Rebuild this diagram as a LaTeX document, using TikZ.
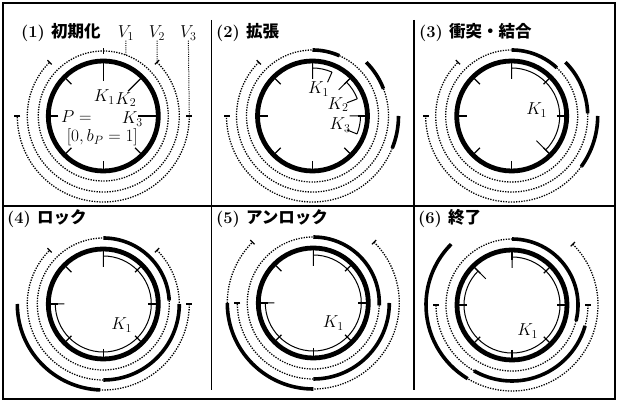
\documentclass[tikz,border=0pt]{standalone}
\usepackage{fontspec}
\newfontfamily\jpfont{Noto Sans CJK JP}
\begin{document}
\begin{tikzpicture}[x=1pt,y=1pt,
  ring/.style={line width=4.8pt},
  rtick/.style={line width=1.3pt},
  karc/.style={line width=1pt},
  vseg/.style={line width=3.6pt},
  vdot/.style={line width=1.3pt,dash pattern=on 1.3pt off 1.3pt},
  vend/.style={line width=1.2pt},
  lead/.style={line width=1pt,dash pattern=on 1pt off 1.2pt},
  head/.style={anchor=west,inner sep=0pt,font=\fontsize{16.5}{18}\selectfont\bfseries},
  lab/.style={inner sep=0pt,font=\fontsize{17.5}{20.5}\selectfont}]
\useasboundingbox (0,0) rectangle (618,403);
\draw[line width=1.5pt] (3,4) rectangle (615,400);
\draw[line width=1.2pt] (3,197) -- (615,197);
\draw[line width=1.2pt] (211.5,383) -- (211.5,13) (414,383) -- (414,13);

% (1) initial state
\node[head] (h1) at (21,370) {(1) {\jpfont 初期化}};
\begin{scope}[shift={(103.3,287)}]
\coordinate (c1) at (0,0);
\draw[ring] (c1) circle[radius=55];
\foreach \a in {135,180,...,315} \draw[rtick] (\a:45) -- (\a:55);
\foreach \a in {0,45,90} \draw[rtick] (\a:35) -- (\a:55);
\draw[vdot] (90:65) arc[start angle=90,end angle=-270,radius=65];
\draw[vend] (90:62) -- (90:68);
\draw[vdot] (45:76) arc[start angle=45,end angle=-225,radius=76];
\draw[vend] (45:73) -- (45:79) (135:73) -- (135:79);
\draw[vdot] (0:86) arc[start angle=0,end angle=-180,radius=86];
\draw[vend] (0:83) -- (0:89) (180:83) -- (180:89);
\node[lab] (k11) at (1,19) {$K_1$};
\node[lab] (k12) at (22.5,16.5) {$K_2$};
\node[lab] (k13) at (29,-3) {$K_3$};
\node[lab] (p1) at (-27,-0.7) {$P=$};
\node[lab] (b1) at (-1,-21.3) {$[0,b_P=1]$};
\coordinate (a1) at (69.6:65);
\coordinate (a2) at (45:76);
\coordinate (a3) at (0:86);
\node[lab] (lv1) at (22.7,82.7) {$V_1$};
\node[lab] (lv2) at (53.7,82.7) {$V_2$};
\node[lab] (lv3) at (85,82.7) {$V_3$};
\draw[lead] (lv1) -- (a1);
\draw[lead] (lv2) -- (a2);
\draw[lead] (lv3) -- (a3);
\end{scope}

% (2) expansion
\node[head] (h2) at (216,370) {(2) {\jpfont 拡張}};
\begin{scope}[shift={(312.5,287)}]
\coordinate (c2) at (0,0);
\draw[ring] (c2) circle[radius=55];
\foreach \a in {0,45,...,315} \draw[rtick] (\a:45) -- (\a:55);
\draw[karc] (90:37) -- (90:55) (90:48) arc[start angle=90,end angle=66,radius=48] (66:48) -- (66:37);
\draw[karc] (45:37) -- (45:55) (45:48) arc[start angle=45,end angle=21,radius=48] (21:48) -- (21:37);
\draw[karc] (0:37) -- (0:55) (0:48) arc[start angle=0,end angle=-22,radius=48] (-22:48) -- (-22:37);
\draw[vseg] (90:66) arc[start angle=90,end angle=66,radius=66];
\draw[vdot] (66:66) arc[start angle=66,end angle=-270,radius=66];
\draw[vseg] (45:76) arc[start angle=45,end angle=21,radius=76];
\draw[vdot] (21:76) arc[start angle=21,end angle=-225,radius=76];
\draw[vend] (135:73) -- (135:79);
\draw[vseg] (0:86) arc[start angle=0,end angle=-22,radius=86];
\draw[vdot] (-22:86) arc[start angle=-22,end angle=-180,radius=86];
\draw[vend] (180:83) -- (180:89);
\node[lab] (k21) at (6,27) {$K_1$};
\node[lab] (k22) at (25.5,11.5) {$K_2$};
\node[lab] (k23) at (27.5,-9) {$K_3$};
\end{scope}

% (3) collision and merge
\node[head] (h3) at (419,370) {(3) {\jpfont 衝突・結合}};
\begin{scope}[shift={(511.7,287)}]
\coordinate (c3) at (0,0);
\draw[ring] (c3) circle[radius=55];
\foreach \a in {0,45,...,315} \draw[rtick] (\a:45) -- (\a:55);
\draw[karc] (90:37) -- (90:55) (90:48) arc[start angle=90,end angle=-45,radius=48] (-45:35) -- (-45:55);
\draw[vseg] (90:66) arc[start angle=90,end angle=47,radius=66];
\draw[vdot] (47:66) arc[start angle=47,end angle=-270,radius=66];
\draw[vseg] (45:76) arc[start angle=45,end angle=2,radius=76];
\draw[vdot] (2:76) arc[start angle=2,end angle=-225,radius=76];
\draw[vend] (135:73) -- (135:79);
\draw[vseg] (0:86) arc[start angle=0,end angle=-36,radius=86];
\draw[vdot] (-36:86) arc[start angle=-36,end angle=-180,radius=86];
\draw[vend] (180:83) -- (180:89);
\node[lab] (k31) at (25,6) {$K_1$};
\end{scope}

% (4) lock
\node[head] (h4) at (7,184) {(4) {\jpfont ロック}};
\begin{scope}[shift={(103.3,99)}]
\coordinate (c4) at (0,0);
\draw[ring] (c4) circle[radius=55];
\foreach \a in {0,45,...,315} \draw[rtick] (\a:45) -- (\a:55);
\draw[karc] (90:37) -- (90:55) (90:48) arc[start angle=90,end angle=-180,radius=48] (180:39) -- (180:55);
\draw[vseg] (90:66) arc[start angle=90,end angle=3,radius=66];
\draw[vdot] (3:66) arc[start angle=3,end angle=-270,radius=66];
\draw[vdot] (45:76) arc[start angle=45,end angle=0,radius=76];
\draw[vseg] (0:76) arc[start angle=0,end angle=-90,radius=76];
\draw[vdot] (-90:76) arc[start angle=-90,end angle=-225,radius=76];
\draw[vend] (45:73) -- (45:79) (135:73) -- (135:79);
\draw[vdot] (0:86) arc[start angle=0,end angle=-92,radius=86];
\draw[vseg] (-92:86) arc[start angle=-92,end angle=-180,radius=86];
\draw[vend] (0:83) -- (0:89);
\node[lab] (k41) at (18.4,-21) {$K_1$};
\end{scope}

% (5) unlock
\node[head] (h5) at (216,184) {(5) {\jpfont アンロック}};
\begin{scope}[shift={(313.3,100)}]
\coordinate (c5) at (0,0);
\draw[ring] (c5) circle[radius=55];
\foreach \a in {0,45,...,315} \draw[rtick] (\a:45) -- (\a:55);
\draw[karc] (90:37) -- (90:55) (90:48) arc[start angle=90,end angle=-180,radius=48] (180:39) -- (180:55);
\draw[vseg] (90:66) arc[start angle=90,end angle=-2,radius=66];
\draw[vdot] (-2:66) arc[start angle=-2,end angle=-270,radius=66];
\draw[vseg] (0:76) arc[start angle=0,end angle=-90,radius=76];
\draw[vdot] (-90:76) arc[start angle=-90,end angle=-180,radius=76];
\draw[vend] (180:73) -- (180:79);
\draw[vdot] (45:86) arc[start angle=45,end angle=-90,radius=86];
\draw[vseg] (-90:86) arc[start angle=-90,end angle=-180,radius=86];
\draw[vdot] (-180:86) arc[start angle=-180,end angle=-225,radius=86];
\draw[vend] (45:83) -- (45:89) (135:83) -- (135:89);
\node[lab] (k51) at (20,-20.3) {$K_1$};
\end{scope}

% (6) finish
\node[head] (h6) at (418,184) {(6) {\jpfont 終了}};
\begin{scope}[shift={(512,98)}]
\coordinate (c6) at (0,0);
\draw[ring] (c6) circle[radius=55];
\foreach \a in {0,45,...,315} \draw[rtick] (\a:45) -- (\a:55);
\draw[karc] (90:37) -- (90:55) (90:48) arc[start angle=90,end angle=-225,radius=48] (135:37) -- (135:55);
\draw[vseg] (90:66) arc[start angle=90,end angle=-14,radius=66];
\draw[vdot] (-14:66) arc[start angle=-14,end angle=-270,radius=66];
\draw[vdot] (0:76) arc[start angle=0,end angle=-16,radius=76];
\draw[vseg] (-16:76) arc[start angle=-16,end angle=-120,radius=76];
\draw[vdot] (-120:76) arc[start angle=-120,end angle=-180,radius=76];
\draw[vend] (0:73) -- (0:79) (180:73) -- (180:79);
\draw[vdot] (45:86) arc[start angle=45,end angle=-121,radius=86];
\draw[vseg] (-121:86) arc[start angle=-121,end angle=-225,radius=86];
\draw[vend] (45:83) -- (45:89);
\node[lab] (k61) at (15.7,-26) {$K_1$};
\end{scope}
\end{tikzpicture}
\end{document}
